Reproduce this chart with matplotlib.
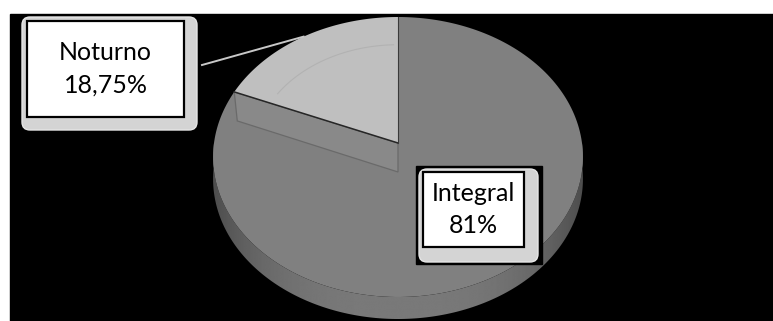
import numpy as np
import matplotlib.pyplot as plt
from matplotlib.patches import Polygon, Rectangle, FancyBboxPatch

# data
categories = ['Integral', 'Noturno']
values = [81.25, 18.75]
pct_labels = ['81%', '18,75%']
top_colors = ['#808080', '#bfbfbf']

W, H = 773, 321
fig = plt.figure(figsize=(W / 100, H / 100), dpi=100)
ax = fig.add_axes([0, 0, 1, 1])
ax.set_xlim(0, W)
ax.set_ylim(H, 0)
ax.axis('off')
fig.patch.set_facecolor('white')

# black plot area
ax.add_patch(Rectangle((10, 14), W - 10, H - 14, color='black', zorder=0))

# pie geometry (pixels) with a bit of perspective
cx, cy, A, B, k, depth = 398, 143, 184, 138.6, 0.1, 22


def proj(theta, frac=1.0, dz=0.0):
    t = np.radians(theta)
    d = 1 + k * np.sin(t)
    return cx + frac * A * np.cos(t) / d, cy - frac * B * np.sin(t) / d + dz


total = sum(values)
bounds = []
cum = 0
for v in values:
    t0 = 90 - 360 * cum / total
    cum += v
    t1 = 90 - 360 * cum / total
    bounds.append((t0, t1))

# side wall (front half) as one shape with a gradient clipped into it
angs = np.linspace(-180, 0, 300)
upper = [proj(a) for a in angs]
lower = [proj(a, dz=depth) for a in angs[::-1]]
wall = Polygon(upper + lower, closed=True, facecolor='none', edgecolor='none', zorder=1)
ax.add_patch(wall)
xs = np.linspace(cx - A - 5, cx + A + 5, 400)
u = np.clip(np.abs(xs - cx) / A, 0, 1)
shade = 0.475 - 0.17 * u ** 3
grad = np.tile(shade, (2, 1))
img = ax.imshow(grad, cmap='gray', vmin=0, vmax=1, aspect='auto',
                extent=(xs[0], xs[-1], cy + B * 1.3 + depth, cy - 20),
                interpolation='bilinear', zorder=1)
img.set_clip_path(wall)

# top faces
for i, (t0, t1) in enumerate(bounds):
    ts = np.linspace(t0, t1, 200)
    pts = [proj(t) for t in ts] + [(cx, cy)]
    ax.add_patch(Polygon(pts, closed=True, facecolor=top_colors[i],
                         edgecolor='none', zorder=2 + i * 2))

# exposed radial wall under the left edge of the small slice
n0, n1 = bounds[1]
ex, ey = proj(n0)
cut = [(ex, ey), (cx, cy), (cx, cy + 29), (ex + 3, ey + 29)]
ax.add_patch(Polygon(cut, closed=True, facecolor='#898989', edgecolor='#6a6a6a',
                     lw=0.9, zorder=3))
ax.plot([ex, cx], [ey, cy], color='#262626', lw=1.1, zorder=5)
tx, ty = proj(n1)
ax.plot([tx, cx], [ty, cy], color='#3a3a3a', lw=0.8, zorder=5)

# faint bevel arc on the small slice
ts = np.linspace(n0 - 6, n1 + 2, 80)
arc = np.array([proj(t, 0.78) for t in ts])
ax.plot(arc[:, 0], arc[:, 1], color='#b2b2b2', lw=0.8, zorder=5)

# labels
font = ['Lato', 'DejaVu Sans']


def label(box, shadow, inner, name, pct):
    if box is not None:
        ax.add_patch(Rectangle(box[:2], box[2], box[3], color='black', zorder=6))
    ax.add_patch(FancyBboxPatch(shadow[:2], shadow[2], shadow[3],
                                boxstyle='round,pad=0,rounding_size=8',
                                facecolor='#d4d4d4', edgecolor='#e6e6e6', lw=1, zorder=7))
    ax.add_patch(Rectangle(inner[:2], inner[2], inner[3], facecolor='white',
                           edgecolor='black', lw=1.6, zorder=8))
    mx = inner[0] + inner[2] / 2
    my = inner[1] + inner[3] / 2
    ax.text(mx, my - 16, name, ha='center', va='center', fontsize=18,
            family=font, color='black', zorder=9)
    ax.text(mx, my + 16, pct, ha='center', va='center', fontsize=18,
            family=font, color='black', zorder=9)


# leader line for the small slice
mid = (n0 + n1) / 2
lx, ly = proj(mid)
ax.plot([202, lx], [65, ly], color='#c8c8c8', lw=1.4, zorder=6)

label(None, (22, 17, 175, 113), (27, 21, 157, 96), categories[1], pct_labels[1])
label((416, 166, 126, 98), (419, 169, 119, 93), (423, 172, 101, 75),
      categories[0], pct_labels[0])

fig.savefig('out.png', dpi=100, facecolor='white')
